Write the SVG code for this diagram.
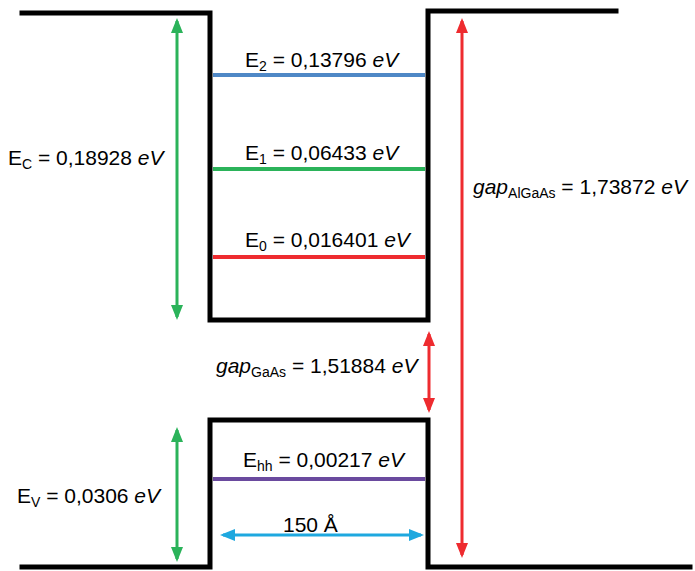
<svg xmlns="http://www.w3.org/2000/svg" width="695" height="571" viewBox="0 0 695 571">
<style>
.band{fill:none;stroke:#000;stroke-width:5;stroke-linejoin:miter;stroke-linecap:square}
.lvl{stroke-width:4;fill:none}
.arr{stroke-width:3;fill:none}
text{font-family:"Liberation Sans",Arial,sans-serif;font-size:21px;fill:#000}
.sub{font-size:14px}
.it{font-style:italic}
</style>
<defs>
<marker id="hg" markerUnits="userSpaceOnUse" markerWidth="15" markerHeight="12" refX="12" refY="6" orient="auto-start-reverse"><path d="M0,0 L15,6 L0,12 z" fill="#2bb35a"/></marker>
<marker id="hr" markerUnits="userSpaceOnUse" markerWidth="15" markerHeight="12" refX="12" refY="6" orient="auto-start-reverse"><path d="M0,0 L15,6 L0,12 z" fill="#ee2b2f"/></marker>
<marker id="hc" markerUnits="userSpaceOnUse" markerWidth="15" markerHeight="12" refX="12" refY="6" orient="auto-start-reverse"><path d="M0,0 L15,6 L0,12 z" fill="#1ea8df"/></marker>
</defs>
<g id="conduction-band">
<path class="band" d="M22,13 H210 V320 H428 V11 H616"/>
</g>
<g id="valence-band">
<path class="band" d="M22,567 H210 V420 H428 V567 H690"/>
</g>
<g id="levels">
<line class="lvl" x1="213" y1="75" x2="425" y2="75" stroke="#4f88c6"/>
<line class="lvl" x1="213" y1="169" x2="425" y2="169" stroke="#2bb35a"/>
<line class="lvl" x1="213" y1="257" x2="425" y2="257" stroke="#ee2b2f"/>
<line class="lvl" x1="213" y1="479" x2="425" y2="479" stroke="#6a4a9e"/>
</g>
<g id="connectors">
<line class="arr" x1="177" y1="21" x2="177" y2="317" stroke="#2bb35a" marker-start="url(#hg)" marker-end="url(#hg)"/>
<line class="arr" x1="177" y1="430" x2="177" y2="559" stroke="#2bb35a" marker-start="url(#hg)" marker-end="url(#hg)"/>
<line class="arr" x1="462" y1="21" x2="462" y2="555" stroke="#ee2b2f" marker-start="url(#hr)" marker-end="url(#hr)"/>
<line class="arr" x1="429" y1="334" x2="429" y2="410" stroke="#ee2b2f" marker-start="url(#hr)" marker-end="url(#hr)"/>
<line class="arr" x1="223" y1="535" x2="421" y2="535" stroke="#1ea8df" marker-start="url(#hc)" marker-end="url(#hc)"/>
</g>
<g id="labels">
<text x="245" y="67">E<tspan class="sub" dy="4">2</tspan><tspan dy="-4"> = 0,13796 </tspan><tspan class="it">eV</tspan></text>
<text x="245" y="160">E<tspan class="sub" dy="4">1</tspan><tspan dy="-4"> = 0,06433 </tspan><tspan class="it">eV</tspan></text>
<text x="245" y="247">E<tspan class="sub" dy="4">0</tspan><tspan dy="-4"> = 0,016401 </tspan><tspan class="it">eV</tspan></text>
<text x="8" y="165">E<tspan class="sub" dy="4">C</tspan><tspan dy="-4"> = 0,18928 </tspan><tspan class="it">eV</tspan></text>
<text x="473" y="194"><tspan class="it">gap</tspan><tspan class="sub" dy="4">AlGaAs</tspan><tspan dy="-4"> = 1,73872 </tspan><tspan class="it">eV</tspan></text>
<text x="216" y="373"><tspan class="it">gap</tspan><tspan class="sub" dy="4">GaAs</tspan><tspan dy="-4"> = 1,51884 </tspan><tspan class="it">eV</tspan></text>
<text x="243" y="467">E<tspan class="sub" dy="4">hh</tspan><tspan dy="-4"> = 0,00217 </tspan><tspan class="it">eV</tspan></text>
<text x="17" y="503">E<tspan class="sub" dy="4">V</tspan><tspan dy="-4"> = 0,0306 </tspan><tspan class="it">eV</tspan></text>
<text x="283" y="532">150 Å</text>
</g>
</svg>
